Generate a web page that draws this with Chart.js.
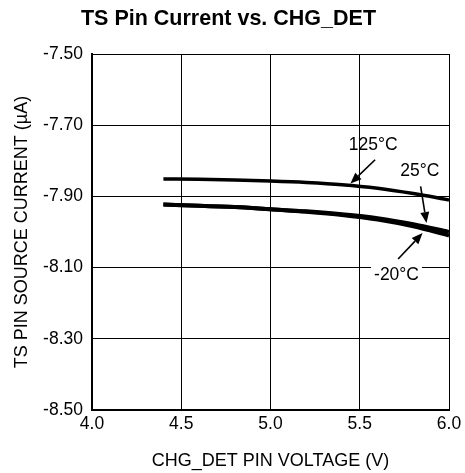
<!DOCTYPE html>
<html>
<head>
<meta charset="utf-8">
<script src="https://cdn.jsdelivr.net/npm/chart.js@4/dist/chart.umd.min.js"></script>
<style>
html,body{margin:0;padding:0;background:#fff;}
#wrap{width:465px;height:473px;position:relative;}
</style>
</head>
<body>
<div id="wrap"><canvas id="c"></canvas></div>
<script>
// Data
const voltage = [4.4, 4.6, 4.8, 5.0, 5.2, 5.4, 5.6, 5.8, 6.0];
const current125C = [-7.851, -7.852, -7.854, -7.857, -7.861, -7.867, -7.877, -7.892, -7.910];
const current25C = [-7.923, -7.926, -7.930, -7.936, -7.942, -7.950, -7.961, -7.978, -8.000];
const currentM20C = [-7.923, -7.926, -7.930, -7.936, -7.943, -7.952, -7.965, -7.984, -8.010];
const xTicks = [4.0, 4.5, 5.0, 5.5, 6.0];
const yTicks = [-7.50, -7.70, -7.90, -8.10, -8.30, -8.50];
const seriesLabels = ['125°C', '25°C', '-20°C'];
// callout text anchor and arrow (from -> to) in data units
const calloutText = [[5.575, -7.755], [5.837, -7.830], [5.706, -8.120]];
const calloutFrom = [[5.586, -7.797], [5.841, -7.872], [5.715, -8.076]];
const calloutTo = [[5.448, -7.864], [5.874, -7.975], [5.852, -8.003]];

const FONT = "'Liberation Sans', Arial, Helvetica, sans-serif";

function pts(ys){ return voltage.map((x,i)=>({x:x, y:ys[i]})); }

const calloutPlugin = {
  id: 'callouts',
  afterDatasetsDraw(chart){
    const ctx = chart.ctx, xs = chart.scales.x, ys = chart.scales.y;
    ctx.save();
    ctx.font = "17.5px " + FONT;
    ctx.textAlign = 'center';
    ctx.textBaseline = 'middle';
    seriesLabels.forEach((lab,i)=>{
      const tx = xs.getPixelForValue(calloutText[i][0]);
      const ty = ys.getPixelForValue(calloutText[i][1]);
      if (i === 2) {
        const w = ctx.measureText(lab).width;
        ctx.fillStyle = '#fff';
        ctx.fillRect(tx - w/2 - 3, ty - 9, w + 6, 18);
      }
      ctx.fillStyle = '#000';
      ctx.fillText(lab, tx, ty);
      const x1 = xs.getPixelForValue(calloutFrom[i][0]);
      const y1 = ys.getPixelForValue(calloutFrom[i][1]);
      const x2 = xs.getPixelForValue(calloutTo[i][0]);
      const y2 = ys.getPixelForValue(calloutTo[i][1]);
      const ang = Math.atan2(y2-y1, x2-x1);
      const hl = 11, hw = 4.5;
      const bx = x2 - hl*Math.cos(ang), by = y2 - hl*Math.sin(ang);
      ctx.strokeStyle = '#000';
      ctx.lineWidth = 1.6;
      ctx.beginPath(); ctx.moveTo(x1,y1); ctx.lineTo(bx,by); ctx.stroke();
      ctx.beginPath();
      ctx.moveTo(x2,y2);
      ctx.lineTo(bx + hw*Math.sin(ang), by - hw*Math.cos(ang));
      ctx.lineTo(bx - hw*Math.sin(ang), by + hw*Math.cos(ang));
      ctx.closePath(); ctx.fill();
    });
    ctx.restore();
  }
};

const lineCommon = {borderColor:'#000', backgroundColor:'#000', borderWidth:4, pointRadius:0, tension:0.4, cubicInterpolationMode:'monotone', fill:false, borderCapStyle:'butt'};

new Chart(document.getElementById('c'), {
  type: 'line',
  data: {
    datasets: [
      Object.assign({label: seriesLabels[0], data: pts(current125C)}, lineCommon, {borderWidth:3.5}),
      Object.assign({label: seriesLabels[1], data: pts(current25C)}, lineCommon),
      Object.assign({label: seriesLabels[2], data: pts(currentM20C)}, lineCommon)
    ]
  },
  options: {
    responsive: true,
    maintainAspectRatio: false,
    animation: false,
    devicePixelRatio: 1,
    layout: {padding: {left: 8, right: 16, top: 0, bottom: 0}},
    plugins: {
      legend: {display:false},
      tooltip: {enabled:false},
      title: {display:true, text:'TS Pin Current vs. CHG_DET', color:'#000',
        font:{family:FONT, size:21.5, weight:'bold'}, padding:{top:6, bottom:22.2}}
    },
    scales: {
      x: {
        type:'linear', min:4.0, max:6.0,
        afterBuildTicks(s){ s.ticks = xTicks.map(v=>({value:v})); },
        afterFit(s){ s.height = 63; },
        ticks:{color:'#000', font:{family:FONT, size:17.5}, padding:3.5, maxRotation:0,
          callback:(v)=>Number(v).toFixed(1)},
        grid:{color:'#000', lineWidth:1, drawTicks:false},
        border:{color:'#000', width:2},
        title:{display:true, text:'CHG_DET PIN VOLTAGE (V)', color:'#000',
          font:{family:FONT, size:18}, padding:{top:0, bottom:1}}
      },
      y: {
        type:'linear', min:-8.5, max:-7.5,
        afterBuildTicks(s){ s.ticks = yTicks.map(v=>({value:v})); },
        afterFit(s){ s.width = 84; },
        ticks:{color:'#000', font:{family:FONT, size:17.5}, padding:9,
          callback:(v)=>Number(v).toFixed(2)},
        grid:{color:'#000', lineWidth:1, drawTicks:false},
        border:{color:'#000', width:2},
        title:{display:true, text:'TS PIN SOURCE CURRENT (µA)', color:'#000',
          font:{family:FONT, size:18}, padding:{top:3.7, bottom:0}}
      }
    }
  },
  plugins: [calloutPlugin]
});
</script>
</body>
</html>
